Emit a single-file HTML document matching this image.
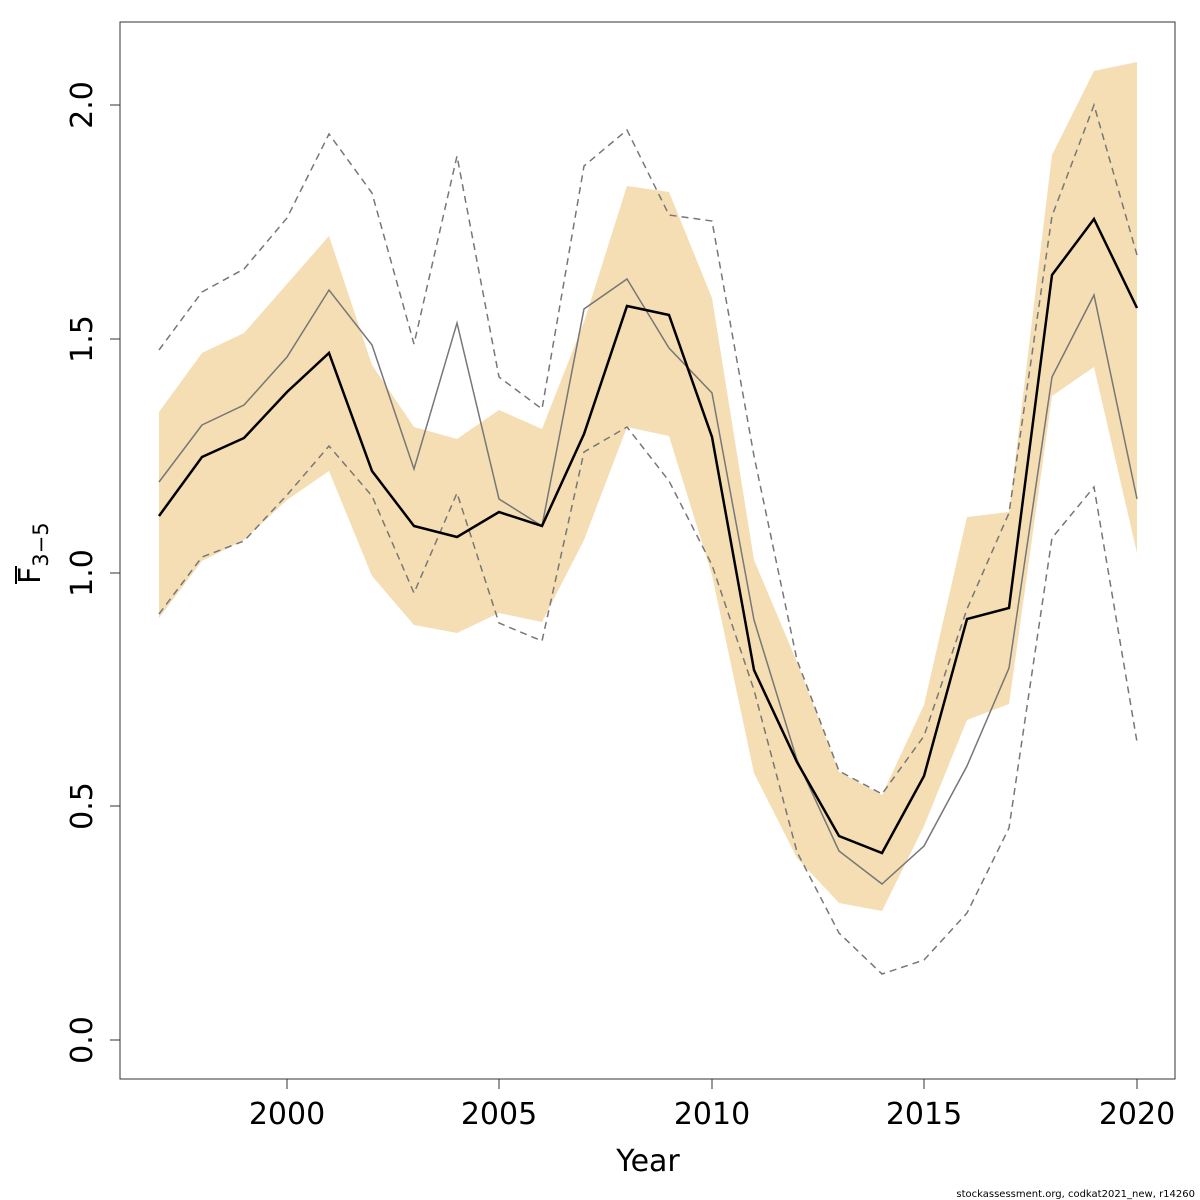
<!DOCTYPE html>
<html><head><meta charset="utf-8"><style>body{margin:0;background:#fff}svg{display:block}</style></head>
<body>
<svg width="1200" height="1200" viewBox="0 0 1200 1200" xmlns="http://www.w3.org/2000/svg" font-family="'DejaVu Sans','Liberation Sans',sans-serif">
<rect width="1200" height="1200" fill="#fff"/>
<polygon fill="#f5deb3" points="159,412 202,353 244,333 287,284 329,236 372,365 414,427 457,439 499,410 542,429 584,322 627,186 669,192 712,298 754,560 797,662 839,772 882,795 924,705 967,517 1009,512 1052,155 1094,71 1137,62 1137,553 1094,367 1052,396 1009,704 967,720 924,826 882,911 839,903 797,858 754,773 712,575 669,436 627,427 584,540 542,622 499,613 457,633 414,625 372,576 329,471 287,500 244,540 202,561 159,618"/>
<g fill="none" stroke="#777" stroke-width="1.5" stroke-dasharray="7,5">
<polyline points="159,350 202,292 244,269 287,218 329,134 372,193 414,344 457,156 499,377 542,409 584,166 627,130 669,215 712,221 754,456 797,660 839,771 882,794 924,736 967,609 1009,513 1052,216 1094,105 1137,255"/>
<polyline points="159,614 202,557 244,541 287,495 329,446 372,496 414,593 457,493 499,623 542,641 584,452 627,427 669,481 712,565 754,690 797,852 839,933 882,974 924,960 967,913 1009,828 1052,538 1094,487 1137,742"/>
</g>
<polyline fill="none" stroke="#777" stroke-width="1.5" points="159,482 202,425 244,405 287,357 329,290 372,345 414,469 457,323 499,499 542,526 584,309 627,279 669,348 712,393 754,620 797,760 839,851 882,884 924,846 967,766 1009,668 1052,377 1094,295 1137,499"/>
<polyline fill="none" stroke="#000" stroke-width="2.5" points="159,516 202,457 244,438 287,392 329,353 372,471 414,526 457,537 499,512 542,526 584,434 627,306 669,315 712,437 754,670 797,762 839,836 882,853 924,776 967,619 1009,608 1052,275 1094,219 1137,308"/>
<rect x="120" y="22" width="1055" height="1057" fill="none" stroke="#333" stroke-width="1"/>
<g stroke="#333" stroke-width="1">
<line x1="287" y1="1079" x2="287" y2="1089"/><line x1="499" y1="1079" x2="499" y2="1089"/><line x1="712" y1="1079" x2="712" y2="1089"/><line x1="924" y1="1079" x2="924" y2="1089"/><line x1="1137" y1="1079" x2="1137" y2="1089"/>
<line x1="110" y1="1040" x2="120" y2="1040"/><line x1="110" y1="806" x2="120" y2="806"/><line x1="110" y1="573" x2="120" y2="573"/><line x1="110" y1="339" x2="120" y2="339"/><line x1="110" y1="105" x2="120" y2="105"/>
</g>
<g font-size="30" text-anchor="middle" fill="#000">
<text x="287" y="1124">2000</text><text x="499" y="1124">2005</text><text x="712" y="1124">2010</text><text x="924" y="1124">2015</text><text x="1137" y="1124">2020</text>
<text x="648" y="1171">Year</text>
<text transform="translate(92,1040) rotate(-90)">0.0</text>
<text transform="translate(92,806) rotate(-90)">0.5</text>
<text transform="translate(92,573) rotate(-90)">1.0</text>
<text transform="translate(92,339) rotate(-90)">1.5</text>
<text transform="translate(92,105) rotate(-90)">2.0</text>
</g>
<g transform="translate(40,584) rotate(-90)" font-size="30">
<text x="0" y="0">F<tspan font-size="21" dy="8">3−5</tspan></text>
<line x1="0" y1="-24" x2="18" y2="-24" stroke="#000" stroke-width="2"/>
</g>
<text x="1195" y="1197" font-size="10" text-anchor="end">stockassessment.org, codkat2021_new, r14260</text>
</svg>
</body></html>
